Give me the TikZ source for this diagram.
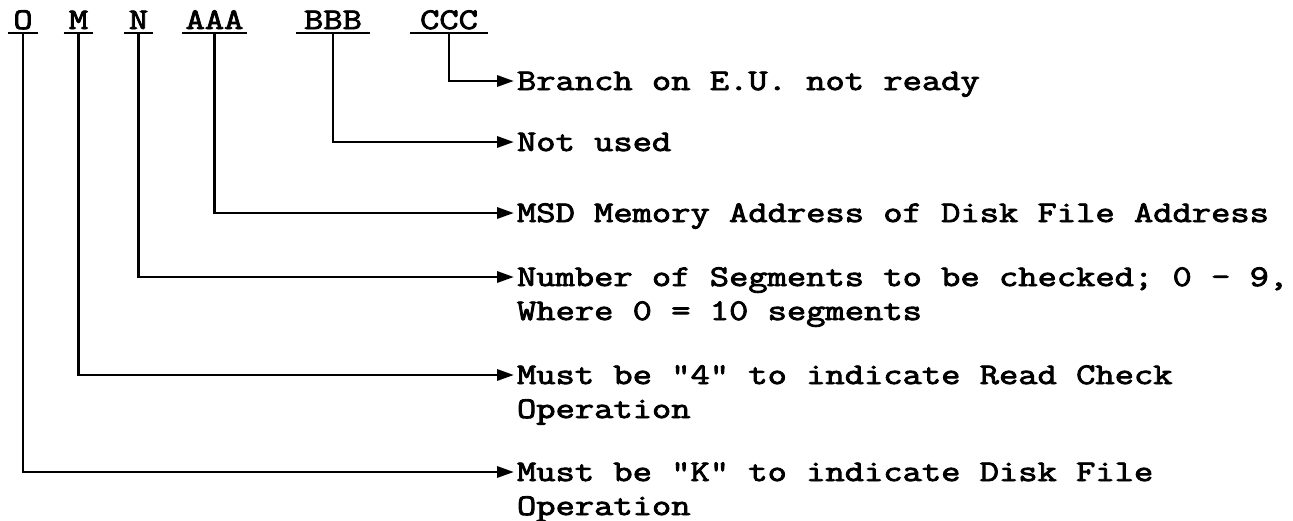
\documentclass[tikz,border=0pt]{standalone}
\usepackage{fontspec}
\usetikzlibrary{arrows.meta}
% heavy typewriter face, widened to the pitch of the printed listing
\newfontfamily\typew{Latin Modern Mono}[FakeStretch=1.248,FakeBold=2.8]
\begin{document}
\begin{tikzpicture}[x=0.75pt,y=-0.75pt,
  rule/.style={line width=1.6pt},
  lead/.style={rule,-{Triangle[length=12.5pt,width=8.5pt]}},
  tw/.style={font=\typew\fontsize{22.5}{26}\selectfont},
  field/.style={tw,anchor=base,inner xsep=0pt,inner ysep=3pt,text depth=0pt},
  desc/.style={tw,anchor=base west,inner xsep=2.25pt,inner ysep=0pt}]
\useasboundingbox (0,0) rectangle (1293,521);

% instruction fields
\node[field,minimum width=22.5pt] (fO) at (23,29)    {O};
\node[field,minimum width=21.75pt] (fM) at (78.5,29)  {M};
\node[field,minimum width=21.75pt] (fN) at (138.5,29) {N};
\node[field,minimum width=48.75pt] (fA) at (214.5,29) {AAA};
\node[field,minimum width=54.75pt] (fB) at (333,29)   {BBB};
\node[field,minimum width=58.5pt]  (fC) at (449,29)   {CCC};

\foreach \f in {fO,fM,fN,fA,fB,fC}
  \draw[rule] (\f.south west) -- (\f.south east);

% descriptions
\node[desc] (dC)  at (513.75,90)  {Branch on E.U. not ready};
\node[desc] (dB)  at (513.75,151) {Not used};
\node[desc] (dA)  at (513.75,222) {MSD Memory Address of Disk File Address};
\node[desc] (dN)  at (513.75,286) {Number of Segments to be checked; 0 - 9,};
\node[desc] (dN2) at (513.75,320) {Where 0 = 10 segments};
\node[desc] (dM)  at (513.75,384) {Must be "4" to indicate Read Check};
\node[desc] (dM2) at (513.75,418) {Operation};
\node[desc] (dO)  at (513.75,481) {Must be "K" to indicate Disk File};
\node[desc] (dO2) at (513.75,515) {Operation};

% leaders from each field to its description
\draw[lead] (fC.south) |- ([yshift=6.75pt]dC.base west);
\draw[lead] (fB.south) |- ([yshift=6.75pt]dB.base west);
\draw[lead] (fA.south) |- ([yshift=6.75pt]dA.base west);
\draw[lead] (fN.south) |- ([yshift=6.75pt]dN.base west);
\draw[lead] (fM.south) |- ([yshift=6.75pt]dM.base west);
\draw[lead] (fO.south) |- ([yshift=6.75pt]dO.base west);
\end{tikzpicture}
\end{document}
